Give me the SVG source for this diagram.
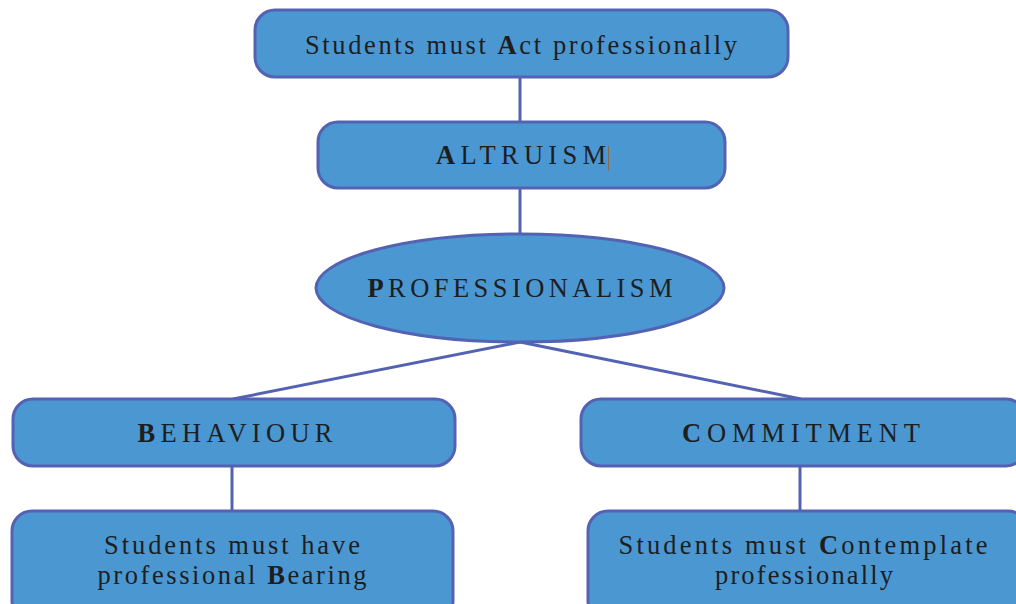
<svg xmlns="http://www.w3.org/2000/svg" width="1016" height="604" viewBox="0 0 1016 604">
  <style>
    .box { fill: #4a97d2; stroke: #5462b4; stroke-width: 3; }
    .link { stroke: #5462b4; stroke-width: 3; fill: none; }
    .lbl { font-family: "Liberation Serif", "Times New Roman", serif; font-size: 26.5px; fill: #1e1e1e; text-anchor: middle; }
    .cap { font-weight: bold; }
  </style>
  <rect width="1016" height="604" fill="#ffffff"/>

  <g id="connectors">
    <line class="link" x1="520" y1="77" x2="520" y2="122"/>
    <line class="link" x1="520" y1="188" x2="520" y2="234"/>
    <line class="link" x1="520" y1="342" x2="233" y2="399"/>
    <line class="link" x1="520" y1="342" x2="801" y2="399"/>
    <line class="link" x1="232" y1="466" x2="232" y2="511"/>
    <line class="link" x1="800" y1="466" x2="800" y2="511"/>
  </g>

  <g id="act">
    <rect class="box" x="255" y="10" width="533" height="67" rx="20"/>
    <text class="lbl" x="521" y="54" textLength="432">Students must <tspan class="cap">A</tspan>ct professionally</text>
  </g>

  <g id="altruism">
    <rect class="box" x="318" y="122" width="407" height="66" rx="20"/>
    <text class="lbl" x="521" y="164" textLength="170"><tspan class="cap">A</tspan>LTRUISM</text>
    <line x1="608.5" y1="146" x2="608.5" y2="171" stroke="#8a6a4a" stroke-width="1"/>
  </g>

  <g id="professionalism">
    <ellipse class="box" cx="520" cy="288" rx="204" ry="54"/>
    <text class="lbl" x="520" y="297" textLength="305"><tspan class="cap">P</tspan>ROFESSIONALISM</text>
  </g>

  <g id="behaviour">
    <rect class="box" x="13" y="399" width="442" height="67" rx="20"/>
    <text class="lbl" x="235" y="442" textLength="195"><tspan class="cap">B</tspan>EHAVIOUR</text>
  </g>

  <g id="commitment">
    <rect class="box" x="581" y="399" width="445" height="67" rx="20"/>
    <text class="lbl" x="801" y="442" textLength="238"><tspan class="cap">C</tspan>OMMITMENT</text>
  </g>

  <g id="bearing">
    <rect class="box" x="12" y="511" width="441" height="110" rx="20"/>
    <text class="lbl" x="232" y="554" textLength="256">Students must have</text>
    <text class="lbl" x="232" y="584" textLength="269">professional <tspan class="cap">B</tspan>earing</text>
  </g>

  <g id="contemplate">
    <rect class="box" x="588" y="511" width="440" height="110" rx="20"/>
    <text class="lbl" x="803" y="554" textLength="369">Students must <tspan class="cap">C</tspan>ontemplate</text>
    <text class="lbl" x="804" y="584" textLength="178">professionally</text>
  </g>
</svg>
